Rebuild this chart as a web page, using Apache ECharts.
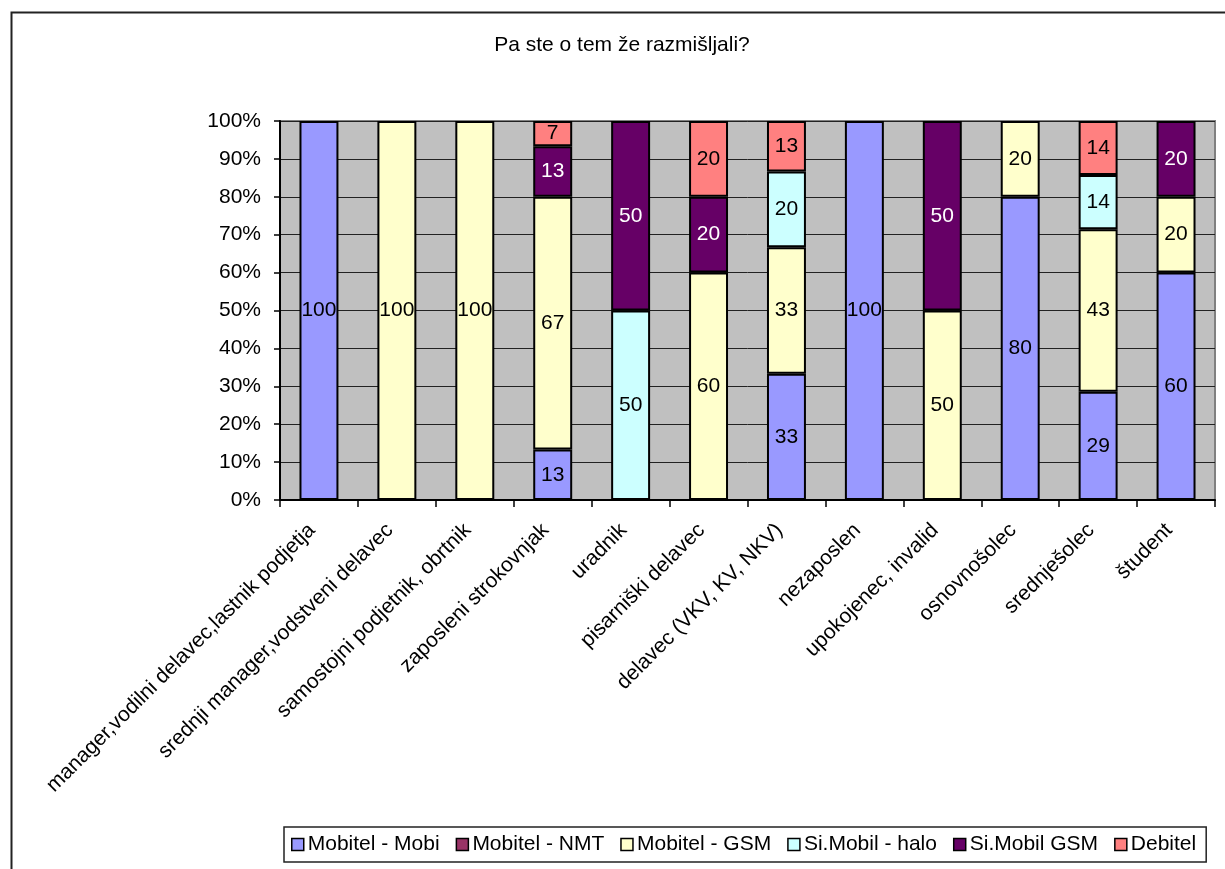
<!DOCTYPE html>
<html>
<head>
<meta charset="utf-8">
<script src="https://cdn.jsdelivr.net/npm/echarts@6/dist/echarts.min.js"></script>
<style>html,body{margin:0;padding:0;background:#fff;}#c{width:1225px;height:869px;}</style>
</head>
<body>
<div id="c"></div>
<script>
const titleText = 'Pa ste o tem že razmišljali?';
const categories = ['manager,vodilni delavec,lastnik podjetja','srednji manager,vodstveni delavec','samostojni podjetnik, obrtnik','zaposleni strokovnjak','uradnik','pisarniški delavec','delavec (VKV, KV, NKV)','nezaposlen','upokojenec, invalid','osnovnošolec','srednješolec','študent'];
const seriesNames = ['Mobitel - Mobi','Mobitel - NMT','Mobitel - GSM','Si.Mobil - halo','Si.Mobil GSM','Debitel'];
const mobitelMobi = [100,'-','-',13.33,'-','-',33.33,100,'-',80,28.57,60];
const mobitelNMT = ['-','-','-','-','-','-','-','-','-','-','-','-'];
const mobitelGSM = ['-',100,100,66.67,'-',60,33.33,'-',50,20,42.86,20];
const siMobilHalo = ['-','-','-','-',50,'-',20,'-','-','-',14.29,'-'];
const siMobilGSM = ['-','-','-',13.33,50,20,'-','-',50,'-','-',20];
const debitel = ['-','-','-',6.67,'-',20,13.33,'-','-','-',14.29,'-'];
const yTicks = [0,10,20,30,40,50,60,70,80,90,100];

const seriesData = [mobitelMobi, mobitelNMT, mobitelGSM, siMobilHalo, siMobilGSM, debitel];
const colors = ['#9999FF','#993366','#FFFFCC','#CCFFFF','#660066','#FF8080'];
const labelColors = ['#000','#fff','#000','#000','#fff','#000'];
const FONT = 'Liberation Sans, Arial, sans-serif';
const FS = 21;

const chart = echarts.init(document.getElementById('c'), null, {renderer:'canvas'});
chart.setOption({
  animation: false,
  backgroundColor: '#fff',
  textStyle: {fontFamily: FONT},
  graphic: [{
    type: 'rect', left: 9, top: 10, silent: true, z: -1,
    shape: {x: 0, y: 0, width: 1400, height: 1000},
    style: {fill: 'none', stroke: '#222', lineWidth: 2}
  }],
  title: {
    text: titleText, left: 617, top: 30, textAlign: 'center',
    textStyle: {fontFamily: FONT, fontSize: FS, fontWeight: 'normal', color: '#000'}
  },
  legend: {
    data: seriesNames, left: 284, top: 827,
    padding: [7, 10, 7, 7], itemGap: 16, itemWidth: 12, itemHeight: 12,
    borderColor: '#222', borderWidth: 1.5, backgroundColor: '#fff',
    icon: 'rect',
    itemStyle: {borderColor: '#000', borderWidth: 1.5},
    textStyle: {fontFamily: FONT, fontSize: FS, color: '#000', padding: [0,0,0,-1]}
  },
  grid: {
    left: 280, right: 10, top: 121, bottom: 369,
    show: true, backgroundColor: '#C0C0C0', borderColor: '#808080', borderWidth: 2
  },
  xAxis: {
    type: 'category', data: categories,
    axisLine: {show: true, lineStyle: {color: '#000', width: 2}},
    axisTick: {show: true, length: 7, lineStyle: {color: '#000', width: 1.5}},
    axisLabel: {rotate: 45, interval: 0, fontSize: FS, color: '#000', fontFamily: FONT, margin: 20, padding: [0, 10, 0, 0]}
  },
  yAxis: {
    type: 'value', min: 0, max: 100, interval: 10,
    axisLine: {show: true, lineStyle: {color: '#000', width: 2}},
    axisTick: {show: true, length: 6, lineStyle: {color: '#000', width: 1.5}},
    axisLabel: {formatter: '{value}%', fontSize: FS, color: '#000', fontFamily: FONT, margin: 19},
    splitLine: {show: true, lineStyle: {color: '#222', width: 1}}
  },
  series: seriesNames.map((name, i) => ({
    name: name, type: 'bar', stack: 'total', barWidth: '50%',
    data: seriesData[i],
    itemStyle: {color: colors[i], borderColor: '#000', borderWidth: 2},
    label: {
      show: true, position: 'inside', fontSize: FS, fontFamily: FONT, color: labelColors[i],
      formatter: p => (typeof p.value === 'number') ? String(Math.round(p.value)) : ''
    }
  }))
});
</script>
</body>
</html>
